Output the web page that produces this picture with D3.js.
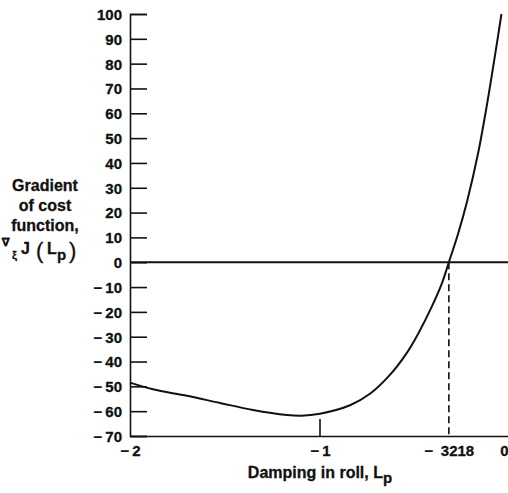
<!DOCTYPE html>
<html>
<head>
<meta charset="utf-8">
<script src="https://cdn.jsdelivr.net/npm/d3@7"></script>
<style>
  html, body { margin: 0; padding: 0; background: #fff; }
  svg { display: block; }
  text { font-family: "Liberation Sans", Arial, Helvetica, sans-serif; font-weight: bold; fill: #111;
         stroke: #111; stroke-width: 0.3px; }
</style>
</head>
<body>
<svg id="chart" width="508" height="493"></svg>
<script>
// Damping-in-roll derivative L_p and the gradient of the cost function at each value
const dampingLp = [-2, -1.879, -1.7, -1.526, -1.353, -1.174, -1.1, -1.0, -0.842, -0.737,
                   -0.632, -0.542, -0.484, -0.411, -0.358, -0.3218, -0.274, -0.226,
                   -0.168, -0.121, -0.079, -0.045];
const gradient  = [-48.5, -51.2, -53.8, -56.7, -59.5, -61.5, -61.8, -61.0, -57.6, -53.0,
                   -45.4, -36.4, -28.9, -17.8, -8.4, 0, 11.3, 24.5,
                   43.9, 63.6, 83.3, 100];

// Zero-crossing of the gradient
const rootLp = -0.3218;

// Axis ticks
const yTickValues = [100, 90, 80, 70, 60, 50, 40, 30, 20, 10, 0, -10, -20, -30, -40, -50, -60, -70];
const xTickValues = [-2, -1, rootLp, 0];
const xTickLabels = ["\u2212\u20092", "\u2212\u20091", "\u2212\u20023218", "0"];
const innerTickValues = [-1];

const svg = d3.select("#chart");

const x = d3.scaleLinear().domain([-2, 0]).range([130, 510]);
const y = d3.scaleLinear().domain([-70, 100]).range([436, 14]);

const fmtY = d => d < 0 ? "\u2212\u2009" + Math.abs(d) : String(d);

// Left axis: ticks point into the plot, labels on the left
const yAxis = d3.axisRight(y)
  .tickValues(yTickValues)
  .tickSize(17)
  .tickFormat(fmtY);

const gy = svg.append("g")
  .attr("transform", `translate(${x(-2)},0)`)
  .call(yAxis);
gy.select(".domain").attr("stroke", "#111").attr("stroke-width", 1.6);
gy.selectAll(".tick line").attr("stroke", "#111").attr("stroke-width", 1.6);
gy.selectAll(".tick text")
  .attr("x", -8)
  .attr("dy", "0.36em")
  .attr("text-anchor", "end")
  .style("font-size", "15px")
  .attr("fill", "#111");

// Bottom axis: line plus labels; only L_p = -1 carries an inward tick
const xAxis = d3.axisBottom(x)
  .tickValues(xTickValues)
  .tickSize(0)
  .tickPadding(9)
  .tickFormat((d, i) => xTickLabels[i]);

const gx = svg.append("g")
  .attr("transform", `translate(0,${y(-70)})`)
  .call(xAxis);
gx.select(".domain").attr("stroke", "#111").attr("stroke-width", 1.6);
gx.selectAll(".tick text")
  .attr("dy", "0.72em")
  .style("font-size", "15px")
  .attr("fill", "#111");
// keep the label at the right end inside the frame
gx.selectAll(".tick text").filter(d => d === 0).attr("x", -2).attr("text-anchor", "end");

svg.append("g").selectAll("line")
  .data(innerTickValues)
  .join("line")
  .attr("x1", d => x(d)).attr("x2", d => x(d))
  .attr("y1", y(-70)).attr("y2", y(-70) - 17)
  .attr("stroke", "#111").attr("stroke-width", 1.6);

// Zero reference line across the plot
svg.append("line")
  .attr("x1", x(-2)).attr("x2", x(0))
  .attr("y1", y(0)).attr("y2", y(0))
  .attr("stroke", "#111").attr("stroke-width", 2);

// Dashed drop line from the root to the L_p axis
svg.append("line")
  .attr("x1", x(rootLp)).attr("x2", x(rootLp))
  .attr("y1", y(0)).attr("y2", y(-70))
  .attr("stroke", "#111").attr("stroke-width", 1.6)
  .attr("stroke-dasharray", "7,4");

// Gradient curve
const line = d3.line()
  .x(d => x(d[0]))
  .y(d => y(d[1]))
  .curve(d3.curveCatmullRom.alpha(0.5));

svg.append("path")
  .datum(dampingLp.map((v, i) => [v, gradient[i]]))
  .attr("d", line)
  .attr("fill", "none")
  .attr("stroke", "#111")
  .attr("stroke-width", 2);

// Axis titles
svg.append("text")
  .attr("x", 320).attr("y", 478)
  .attr("text-anchor", "middle")
  .style("font-size", "16px")
  .text("Damping in roll, L")
  .append("tspan")
  .attr("dy", 5)
  .style("font-size", "15px")
  .text("p");

const yTitle = ["Gradient", "of cost", "function,"];
svg.append("g").selectAll("text")
  .data(yTitle)
  .join("text")
  .attr("x", 45)
  .attr("y", (d, i) => 191 + i * 20)
  .attr("text-anchor", "middle")
  .style("font-size", "16px")
  .text(d => d);

// Symbolic line: ∇ξ J (Lp)
const sym = svg.append("g");
sym.append("text").attr("x", 2).attr("y", 246).style("font-size", "11px").text("\u2207");
sym.append("text").attr("x", 12).attr("y", 259).style("font-size", "11px").text("\u03BE");
sym.append("text").attr("x", 21).attr("y", 254).style("font-size", "16px").text("J");
sym.append("text").attr("x", 36).attr("y", 258).style("font-size", "22px").style("font-weight", "normal").text("(");
sym.append("text").attr("x", 47).attr("y", 254).style("font-size", "16px").text("L");
sym.append("text").attr("x", 57).attr("y", 260).style("font-size", "15px").text("p");
sym.append("text").attr("x", 69).attr("y", 258).style("font-size", "22px").style("font-weight", "normal").text(")");
</script>
</body>
</html>
